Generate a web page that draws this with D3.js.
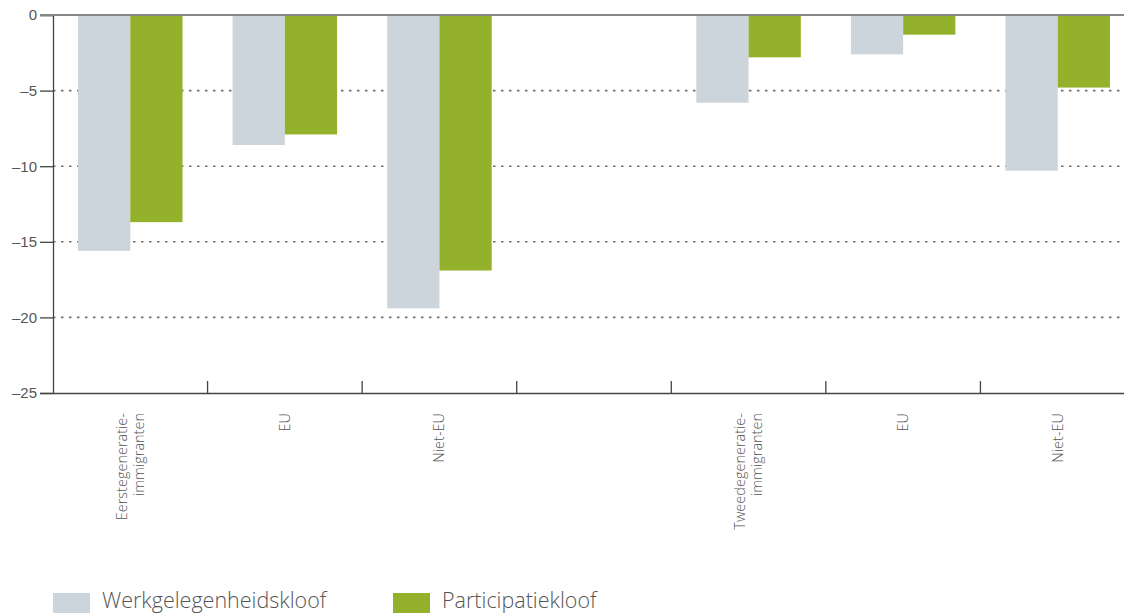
<!DOCTYPE html>
<html>
<head>
<meta charset="utf-8">
<script src="https://cdn.jsdelivr.net/npm/d3@7"></script>
<style>
body{margin:0;background:#fff;}
svg{display:block;font-family:"Open Sans","Noto Sans",sans-serif;}
</style>
</head>
<body>
<svg id="chart" width="1124" height="613"></svg>
<script>
const categories = [["Eerstegeneratie-","immigranten"],["EU"],["Niet-EU"],[],["Tweedegeneratie-","immigranten"],["EU"],["Niet-EU"]];
const seriesNames = ["Werkgelegenheidskloof","Participatiekloof"];
const werkgelegenheidskloof = [-15.6, -8.6, -19.4, null, -5.8, -2.6, -10.3];
const participatiekloof = [-13.7, -7.9, -16.9, null, -2.8, -1.3, -4.8];
const yTicks = [0, -5, -10, -15, -20, -25];
const colors = ["#cdd5dc", "#93b12a"];

(function(){
const svg = d3.select("#chart");
const mLeft = 53, mRight = 1135, mTop = 15, mBottom = 393;
const idx = d3.range(categories.length);
const x0 = d3.scaleBand().domain(idx).range([mLeft, mRight]).padding(0);
const bw = x0.bandwidth();
const x1 = d3.scaleBand().domain([0,1]).range([bw*0.162, bw*0.838]).padding(0);
const y = d3.scaleLinear().domain([0, -25]).range([mTop, mBottom]);

// gridlines
svg.append("g").selectAll("line").data(yTicks.filter(t => t !== 0 && t !== -25)).join("line")
  .attr("x1", mLeft).attr("x2", 1124).attr("y1", d => y(d)).attr("y2", d => y(d))
  .attr("stroke", "#6f6f6f").attr("stroke-width", 1.6).attr("stroke-dasharray", "2.5,5.5");

// bars
const series = [werkgelegenheidskloof, participatiekloof];
series.forEach((vals, s) => {
  svg.append("g").selectAll("rect").data(idx.filter(i => vals[i] != null)).join("rect")
    .attr("x", i => x0(i) + x1(s)).attr("width", x1.bandwidth())
    .attr("y", y(0)).attr("height", i => y(vals[i]) - y(0))
    .attr("fill", colors[s]);
});

// y axis
const yAxis = svg.append("g").attr("transform", `translate(${mLeft},0)`)
  .call(d3.axisLeft(y).tickValues(yTicks).tickSize(13).tickPadding(3)
    .tickFormat(d => d === 0 ? "0" : "\u2013" + Math.abs(d)));
yAxis.select(".domain").attr("stroke", "#444").attr("stroke-width", 1.3);
yAxis.selectAll(".tick line").attr("stroke", "#444").attr("stroke-width", 1.3);
yAxis.selectAll(".tick text").attr("fill", "#555").attr("font-size", 15).attr("font-weight", 300);

// zero line
svg.append("line").attr("x1", 40).attr("x2", 1124).attr("y1", y(0)).attr("y2", y(0))
  .attr("stroke", "#888").attr("stroke-width", 2.2);

// x axis
const xAxis = svg.append("g").attr("transform", `translate(0,${mBottom})`)
  .call(d3.axisBottom(x0).tickSize(0).tickFormat(""));
xAxis.select(".domain").attr("stroke", "#444").attr("stroke-width", 1.3);
xAxis.selectAll(".tick").remove();
xAxis.selectAll("line.sep").data(idx.slice(1)).join("line").attr("class","sep")
  .attr("x1", i => x0(i)).attr("x2", i => x0(i)).attr("y1", 0).attr("y2", -12)
  .attr("stroke", "#444").attr("stroke-width", 1.3);

// x labels
const lab = svg.append("g").selectAll("text").data(idx).join("text")
  .attr("transform", i => `translate(${x0(i) + bw/2},${mBottom + 20}) rotate(-90)`)
  .attr("text-anchor", "end").attr("fill", "#555").attr("font-size", 14.5).attr("font-weight", 300);
lab.each(function(i){
  const lines = categories[i];
  const n = lines.length;
  d3.select(this).selectAll("tspan").data(lines).join("tspan")
    .attr("x", 0).attr("dy", (d, k) => k === 0 ? ((-(n-1)/2)*17 + 5) : 17)
    .text(d => d);
});

// legend
const lg = svg.append("g");
const legX = [53, 393];
seriesNames.forEach((name, s) => {
  lg.append("rect").attr("x", legX[s]).attr("y", 593).attr("width", 37).attr("height", 22).attr("fill", colors[s]);
  lg.append("text").attr("x", legX[s] + 49).attr("y", 608).attr("fill", "#555")
    .attr("font-size", 21.5).attr("font-weight", 300).text(name);
});
})();
</script>
</body>
</html>
